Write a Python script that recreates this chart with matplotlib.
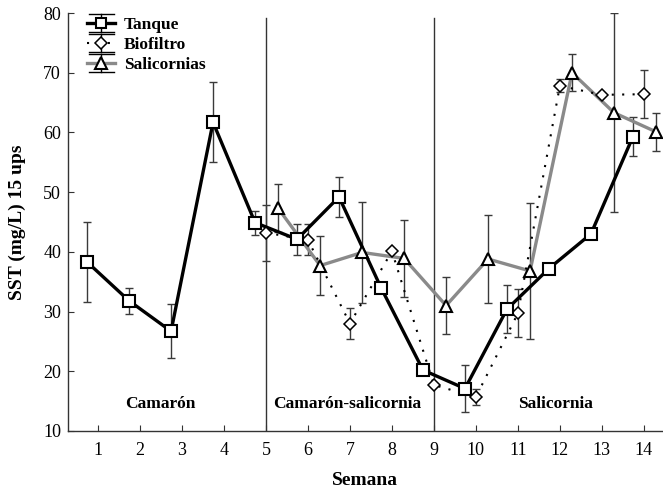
"""
SST (mg/L) at 15 ups across weeks for Tanque, Biofiltro and Salicornias.
Output: out.png
"""

import numpy as np
import matplotlib
matplotlib.use("Agg")
import matplotlib.pyplot as plt
from matplotlib.lines import Line2D
from matplotlib.legend_handler import HandlerBase

# ── Data ───────────────────────────────────────────────────────────────────
weeks = list(range(1, 15))

tanque_weeks = list(range(1, 15))
tanque_mean = [38.3, 31.8, 26.7, 61.7, 44.9, 42.1, 49.2, 34.0, 20.2, 17.1, 30.4, 37.2, 43.0, 59.3]
tanque_err = [6.7, 2.2, 4.5, 6.7, 2.0, 2.6, 3.3, 0.0, 0.0, 4.0, 4.0, 0.0, 0.0, 3.3]

biof_weeks = list(range(5, 15))
biof_mean = [43.2, 42.0, 28.0, 40.1, 17.7, 15.7, 29.7, 67.8, 66.3, 66.4]
biof_err = [4.7, 2.6, 2.6, 0.0, 0.0, 1.3, 4.0, 1.1, 0.0, 4.0]

sal_weeks = list(range(5, 15))
sal_mean = [47.3, 37.7, 39.9, 38.9, 31.0, 38.8, 36.8, 70.0, 63.3, 60.1]
sal_err = [4.0, 4.9, 8.4, 6.5, 4.8, 7.3, 11.4, 3.1, 16.7, 3.2]

phase_labels = ["Camarón", "Camarón-salicornia", "Salicornia"]
phase_centers = [2.48, 6.93, 11.9]
phase_bounds = [5, 9]

# ── Style ───────────────────────────────────────────────────────────────────
plt.rcParams.update({
    "font.family": ["Liberation Serif", "DejaVu Serif"],
    "font.size": 12,
})

SERIES = {
    "Tanque":      dict(offset=-0.26, color="black", ls="-", lw=2.4,
                        marker="s", ms=8, mew=1.5),
    "Biofiltro":   dict(offset=0.0, color="black", ls=(0, (1, 4)), lw=1.5,
                        marker="D", ms=6.5, mew=1.1),
    "Salicornias": dict(offset=0.29, color="#8a8a8a", ls="-", lw=2.4,
                        marker="^", ms=9, mew=1.5),
}
ERR_COLOR = "#3a3a3a"


class StatHandler(HandlerBase):
    """Legend key: series line + marker framed by a wide error-bar glyph."""
    def create_artists(self, legend, orig, xd, yd, w, h, fs, trans):
        x0, x1 = -xd, w - xd
        xm = (x0 + x1) / 2
        y = h / 2 - yd
        dy = h * 0.72
        arts = []
        for yy in (y - dy, y + dy):
            arts.append(Line2D([x0 + 1, x1 - 1], [yy, yy], color="black", lw=1.0, transform=trans))
        arts.append(Line2D([xm, xm], [y - dy, y + dy], color="black", lw=1.0, transform=trans))
        ln = Line2D([x0, x1], [y, y])
        ln.update_from(orig)
        ln.set_marker("")
        ln.set_transform(trans)
        mk = Line2D([xm], [y])
        mk.update_from(orig)
        mk.set_linestyle("none")
        mk.set_transform(trans)
        return arts + [ln, mk]


# ── Plot ────────────────────────────────────────────────────────────────────
fig = plt.figure(figsize=(6.63, 4.93), dpi=100)
ax = fig.add_axes([0.1026, 0.1258, 0.897, 0.8478])

data = {
    "Tanque": (tanque_weeks, tanque_mean, tanque_err),
    "Biofiltro": (biof_weeks, biof_mean, biof_err),
    "Salicornias": (sal_weeks, sal_mean, sal_err),
}

for name in ["Salicornias", "Biofiltro", "Tanque"]:
    cfg = SERIES[name]
    wk, mean, err = data[name]
    x = np.array(wk, dtype=float) + cfg["offset"]
    mean = np.array(mean)
    err = np.array(err)
    has = err > 0
    ax.errorbar(x[has], mean[has], yerr=err[has], fmt="none", ecolor=ERR_COLOR,
                elinewidth=1.0, capsize=3, capthick=1.0, zorder=2)
    ax.plot(x, mean, color=cfg["color"], ls=cfg["ls"], lw=cfg["lw"], zorder=3)
    ax.plot(x, mean, ls="none", marker=cfg["marker"], ms=cfg["ms"], mfc="white",
            mec="black", mew=cfg["mew"], zorder=4)

handles = []
for name in ["Tanque", "Biofiltro", "Salicornias"]:
    cfg = SERIES[name]
    handles.append(Line2D([], [], color=cfg["color"], ls=cfg["ls"], lw=cfg["lw"],
                          marker=cfg["marker"], ms=cfg["ms"] * 0.95, mfc="white",
                          mec="black", mew=cfg["mew"], label=name))

# phase dividers and labels
for xb in phase_bounds:
    ax.plot([xb, xb], [10, 79.2], color="#333333", lw=1.0, zorder=1)
for lbl, xc in zip(phase_labels, phase_centers):
    ax.text(xc, 14.5, lbl, ha="center", va="center", fontsize=12.5, fontweight="bold")

ax.set_xlim(0.286, 14.45)
ax.set_ylim(10, 80)
ax.set_xticks(weeks)
ax.set_yticks(range(10, 81, 10))
ax.tick_params(direction="in", length=4, width=0.8, labelsize=13, color="#333333")
ax.tick_params(axis="x", pad=8)
ax.tick_params(axis="y", pad=5)
for side in ["top", "right"]:
    ax.spines[side].set_visible(False)
for side in ["left", "bottom"]:
    ax.spines[side].set_color("#333333")
    ax.spines[side].set_linewidth(1.0)

ax.set_xlabel("Semana", fontsize=14, fontweight="bold", labelpad=9)
ax.set_ylabel("SST (mg/L) 15 ups", fontsize=14, fontweight="bold", labelpad=12)

ax.legend(handles=handles, loc="upper left", bbox_to_anchor=(0.015, 1.015),
          frameon=False, handlelength=1.6, handletextpad=0.5,
          labelspacing=0.22, borderaxespad=0.2,
          prop={"weight": "bold", "size": 12.5},
          handler_map={Line2D: StatHandler()})

fig.savefig("out.png", dpi=100)
